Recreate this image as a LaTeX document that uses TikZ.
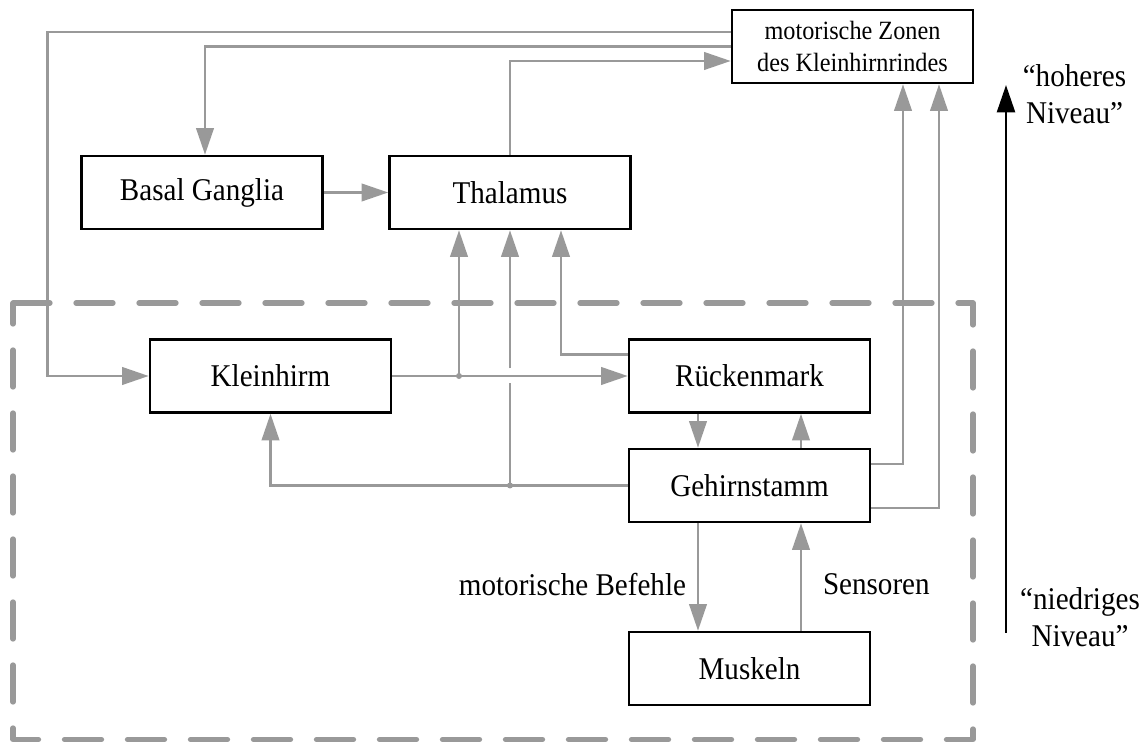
\documentclass[tikz,border=0pt]{standalone}
\usepackage{fontspec}
\setmainfont{Liberation Serif}[FakeStretch=0.92]
\usetikzlibrary{positioning,arrows.meta,calc}
\definecolor{wire}{HTML}{999999}
\tikzset{
  blk/.style ={draw=black, line width=1.5pt, fill=white, minimum width=4.82cm, minimum height=1.46cm, inner sep=2pt, align=center, font=\fontsize{18}{21}\selectfont},
  ln/.style  ={draw=wire, line width=1.3pt, -{Triangle[length=5.3mm,width=3.5mm]}},
  lnp/.style ={draw=wire, line width=1.3pt},
  jn/.style  ={circle, fill=wire, inner sep=0pt, minimum size=3.4pt},
  zone/.style={draw=wire, line width=3pt, dash pattern=on 7.4mm off 5.2mm, line cap=round, line join=round},
  niv/.style ={draw=black, line width=1.6pt, -{Triangle[length=5.5mm,width=3.6mm]}},
  lbl/.style ={font=\fontsize{18}{21}\selectfont, align=center},
}

\begin{document}
\begin{tikzpicture}
    \useasboundingbox (0,0) rectangle (22.86,14.84);

    % untere Ebene
    \draw[zone] (0.26,8.78) -| (19.46,0.05) -| cycle;

    \node[blk] (bg)    at (4.04,10.99) {Basal Ganglia};
    \node[blk] (thal)  at (10.2,10.99) {Thalamus};
    \node[blk,font=\fontsize{15}{18.2}\selectfont] (motz) at (17.05,13.91)
      {motorische Zonen\\des Kleinhirnrindes};
    \node[blk] (klein) at (5.41,7.32) {Kleinhirm};
    \node[blk] (rueck) at (14.99,7.32) {Rückenmark};
    \node[blk] (geh)   at (14.99,5.13) {Gehirnstamm};
    \node[blk] (musk)  at (14.99,1.47) {Muskeln};

    \coordinate (j1) at (9.18,7.32);
    \coordinate (j2) at (10.2,5.13);

    \draw[ln] ([yshift=.29cm]motz.west) -| (0.95,7.32) -- (klein.west);
    \draw[ln] (motz.west) -| ([xshift=.06cm]bg.north);
    \draw[ln] (thal.north) |- ([yshift=-.29cm]motz.west);
    \draw[ln] (bg) -- (thal);

    \draw[ln] (klein) -- (rueck);
    \draw[ln] (j1) -- (j1 |- thal.south);
    \draw[ln] ([yshift=.43cm]rueck.west) -| ([xshift=1.02cm]thal.south);
    \draw[ln] (geh.west) -| (klein.south);
    \draw[lnp] (j2) -- ($(j2 |- klein.center)+(0,-.15)$);
    \draw[ln] ($(j2 |- klein.center)+(0,.15)$) -- (thal.south);
    \node[jn] at (j1) {};
    \node[jn] at (j2) {};

    \draw[ln] ([xshift=-1.03cm]rueck.south) -- ([xshift=-1.03cm]geh.north);
    \draw[ln] ([xshift=1.03cm]geh.north) -- ([xshift=1.03cm]rueck.south);
    \draw[ln] ([xshift=-1.03cm]geh.south) -- node[lbl,left,pos=.57,xshift=-1mm] {motorische Befehle} ([xshift=-1.03cm]musk.north);
    \draw[ln] ([xshift=1.03cm]musk.north) -- node[lbl,right,pos=.43,xshift=3mm] {Sensoren} ([xshift=1.03cm]geh.south);

    \draw[ln] ([yshift=.43cm]geh.east) -| ([xshift=1.01cm]motz.south);
    \draw[ln] ([yshift=-.45cm]geh.east) -| ([xshift=1.73cm]motz.south);

    % Niveau-Pfeil
    \coordinate (lo) at (20.12,2.18);
    \coordinate (hi) at (20.12,13.14);
    \draw[niv] (lo) -- (hi);
    \node[lbl] (hoch) at (21.49,12.96) {“hoheres\\Niveau”};
    \node[lbl] (tief) at (21.6,2.5) {“niedriges\\Niveau”};
  \end{tikzpicture}
\end{document}
